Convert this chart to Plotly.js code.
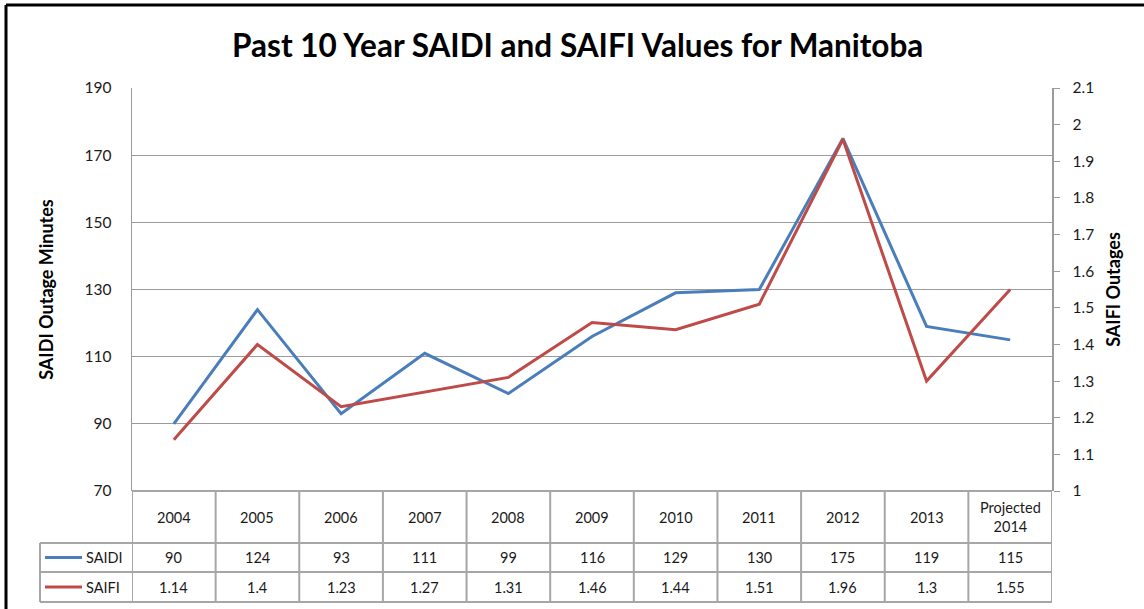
<!DOCTYPE html>
<html>
<head>
<meta charset="utf-8">
<script src="https://cdn.plot.ly/plotly-3.0.1.min.js"></script>
<style>html,body{margin:0;padding:0;background:#fff;}#chart{width:1144px;height:609px;}</style>
</head>
<body>
<div id="chart"></div>
<script>
// ---- data ----
const categories = ["2004","2005","2006","2007","2008","2009","2010","2011","2012","2013","Projected<br>2014"];
const saidi = [90,124,93,111,99,116,129,130,175,119,115];
const saifi = [1.14,1.4,1.23,1.27,1.31,1.46,1.44,1.51,1.96,1.3,1.55];
const saidiLabels = ["90","124","93","111","99","116","129","130","175","119","115"];
const saifiLabels = ["1.14","1.4","1.23","1.27","1.31","1.46","1.44","1.51","1.96","1.3","1.55"];
const seriesNames = ["SAIDI","SAIFI"];
const colors = ["#4A7EBB","#BE4B48"];

// ---- geometry (pixels) ----
const W = 1144, H = 609;
const L = 132, R = 1052, T = 88, B = 491;
const pw = R - L, ph = B - T;
const px = x => (x - L) / pw;      // pixel x -> paper
const py = y => (B - y) / ph;      // pixel y -> paper

const idx = categories.map((_, i) => i);
const FONT = "Lato, 'Open Sans', sans-serif";
const txtColor = "#1a1a1a";
const tableLine = {color: "#a6a6a6", width: 2};

const rowTop = [B, 543, 572, 602];

const shapes = [];
const annotations = [];

// table vertical lines (category boundaries)
for (let i = 0; i <= categories.length; i++) {
  shapes.push({type: "line", xref: "x", yref: "paper", x0: i - 0.5, x1: i - 0.5,
    y0: py(rowTop[0]), y1: py(rowTop[3]), line: tableLine});
}
// table horizontal lines
shapes.push({type: "line", xref: "paper", yref: "paper", x0: 0, x1: 1, y0: py(rowTop[0]), y1: py(rowTop[0]), line: tableLine});
for (let r = 1; r <= 3; r++) {
  shapes.push({type: "line", xref: "paper", yref: "paper", x0: px(40), x1: 1, y0: py(rowTop[r]), y1: py(rowTop[r]), line: tableLine});
}
// legend column left edge
shapes.push({type: "line", xref: "paper", yref: "paper", x0: px(40), x1: px(40), y0: py(rowTop[1]), y1: py(rowTop[3]), line: tableLine});

// legend keys
[0, 1].forEach(r => {
  const yc = py((rowTop[r + 1] + rowTop[r + 2]) / 2);
  shapes.push({type: "line", xref: "paper", yref: "paper", x0: px(45), x1: px(82), y0: yc, y1: yc,
    line: {color: colors[r], width: 3}});
  annotations.push({xref: "paper", yref: "paper", x: px(84), y: yc, xanchor: "left", yanchor: "middle",
    text: seriesNames[r], showarrow: false, font: {family: FONT, size: 14.5, color: txtColor}});
});

// table texts
categories.forEach((c, i) => {
  annotations.push({xref: "x", yref: "paper", x: i, y: py((rowTop[0] + rowTop[1]) / 2), xanchor: "center", yanchor: "middle",
    text: c, showarrow: false, font: {family: FONT, size: 14.5, color: txtColor}});
  annotations.push({xref: "x", yref: "paper", x: i, y: py((rowTop[1] + rowTop[2]) / 2), xanchor: "center", yanchor: "middle",
    text: saidiLabels[i], showarrow: false, font: {family: FONT, size: 14.5, color: txtColor}});
  annotations.push({xref: "x", yref: "paper", x: i, y: py((rowTop[2] + rowTop[3]) / 2), xanchor: "center", yanchor: "middle",
    text: saifiLabels[i], showarrow: false, font: {family: FONT, size: 14.5, color: txtColor}});
});

// outer frame (left + top, black)
shapes.push({type: "line", xref: "paper", yref: "paper", x0: px(6), x1: px(W), y0: py(5), y1: py(5), line: {color: "#000", width: 3}});
shapes.push({type: "line", xref: "paper", yref: "paper", x0: px(6), x1: px(6), y0: py(5), y1: py(H), line: {color: "#000", width: 3}});

const traces = [
  {x: idx, y: saidi, name: seriesNames[0], type: "scatter", mode: "lines", yaxis: "y",
   line: {color: colors[0], width: 3}},
  {x: idx, y: saifi, name: seriesNames[1], type: "scatter", mode: "lines", yaxis: "y2",
   line: {color: colors[1], width: 3}}
];

const layout = {
  width: W, height: H,
  margin: {l: L, r: W - R, t: T, b: H - B, pad: 0},
  paper_bgcolor: "#fff", plot_bgcolor: "#fff",
  showlegend: false,
  font: {family: FONT, size: 13, color: txtColor},
  title: {text: "Past 10 Year SAIDI and SAIFI Values for Manitoba", x: 0.505, xanchor: "center", y: 0.925, yanchor: "middle",
    font: {family: FONT, size: 31.5, color: "#000", weight: "bold"}},
  xaxis: {range: [-0.5, categories.length - 0.5], showticklabels: false, showgrid: false, zeroline: false,
    showline: false, ticks: "", fixedrange: true},
  yaxis: {range: [70, 190], dtick: 20, tick0: 70, showgrid: true, gridcolor: "#9b9b9b", gridwidth: 1,
    zeroline: false, showline: true, linecolor: "#9b9b9b", linewidth: 1.5, ticks: "", ticklabelstandoff: 16,
    tickfont: {family: FONT, size: 15.5, color: txtColor},
    title: {text: "SAIDI Outage Minutes", standoff: 26, font: {family: FONT, size: 18, color: "#000", weight: "bold"}}},
  yaxis2: {range: [1, 2.1], dtick: 0.1, tick0: 1, overlaying: "y", side: "right", showgrid: false, zeroline: false,
    showline: true, linecolor: "#9b9b9b", linewidth: 1.5, ticks: "outside", ticklen: 6, tickcolor: "#9b9b9b",
    ticklabelstandoff: 10, tickfont: {family: FONT, size: 15.5, color: txtColor},
    title: {text: "SAIFI Outages", standoff: 14, font: {family: FONT, size: 18, color: "#000", weight: "bold"}}},
  shapes: shapes,
  annotations: annotations
};

Plotly.newPlot("chart", traces, layout, {displayModeBar: false, staticPlot: true});
</script>
</body>
</html>
